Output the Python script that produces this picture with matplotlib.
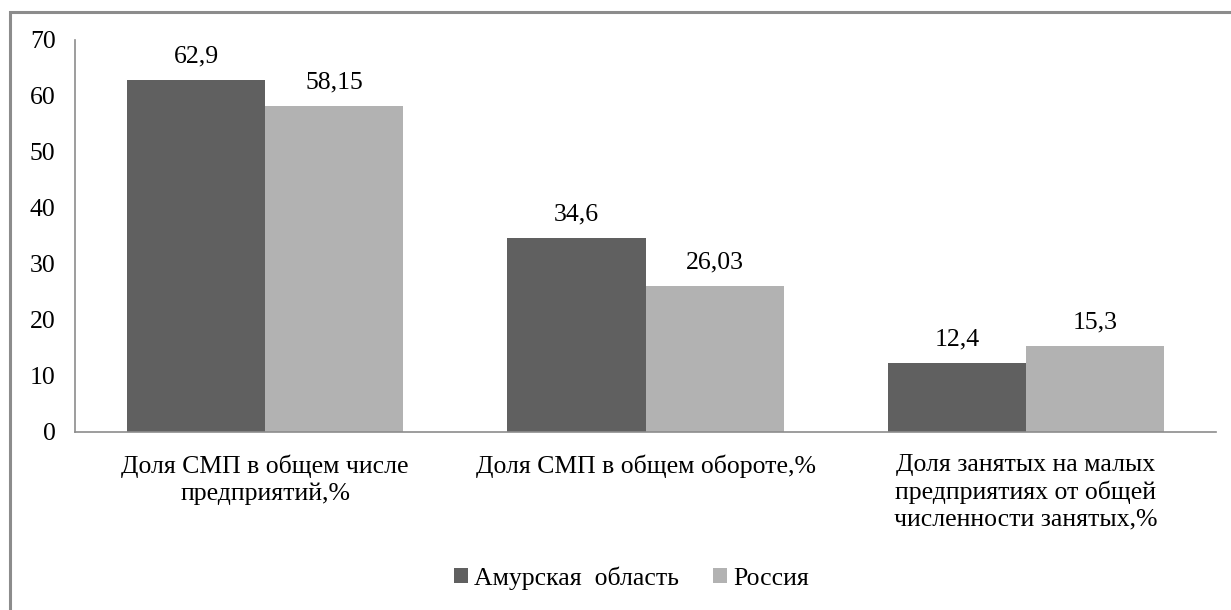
import numpy as np
import matplotlib
matplotlib.use('Agg')
import matplotlib.pyplot as plt
from matplotlib.patches import Rectangle

plt.rcParams['font.family'] = 'serif'
plt.rcParams['font.serif'] = ['Liberation Serif', 'DejaVu Serif']

# ===== данные =====
categories = ['Доля СМП в общем числе\nпредприятий,%',
              'Доля СМП в общем обороте,%',
              'Доля занятых на малых\nпредприятиях от общей\nчисленности занятых,%']
amur = [62.9, 34.6, 12.4]
russia = [58.15, 26.03, 15.3]
series_names = ['Амурская  область', 'Россия']
yticks = [0, 10, 20, 30, 40, 50, 60, 70]

c_dark = '#606060'
c_light = '#b2b2b2'
c_axis = '#8c8c8c'
fs = 18.5

fig = plt.figure(figsize=(12.31, 6.10), dpi=100)
ax = fig.add_axes([75 / 1231, 1 - 432 / 610, 1141 / 1231, 392 / 610])

x = np.arange(len(categories))
w = 0.363
b1 = ax.bar(x - w / 2, amur, width=w, color=c_dark, label=series_names[0])
b2 = ax.bar(x + w / 2, russia, width=w, color=c_light, label=series_names[1])

for bars, vals in ((b1, amur), (b2, russia)):
    for r, v in zip(bars, vals):
        ax.annotate(f'{v:g}'.replace('.', ','),
                    xy=(r.get_x() + r.get_width() / 2, r.get_height()),
                    xytext=(0, 9), textcoords='offset points',
                    ha='center', va='bottom', fontsize=fs, color='#000000')

ax.set_xlim(-0.5, len(categories) - 0.5)
ax.set_ylim(0, 70)
ax.set_yticks(yticks)
ax.set_xticks(x)
ax.set_xticklabels(categories, fontsize=fs, linespacing=1.25)
ax.tick_params(axis='y', length=0, pad=14, labelsize=fs)
ax.tick_params(axis='x', length=0, pad=16)

for s in ('top', 'right'):
    ax.spines[s].set_visible(False)
for s in ('left', 'bottom'):
    ax.spines[s].set_color(c_axis)
    ax.spines[s].set_linewidth(1.2)

leg = fig.legend(handles=[b1, b2], loc='center', bbox_to_anchor=(0.513, 1 - 578 / 610),
                 ncol=2, frameon=False, fontsize=fs, handlelength=0.55, handleheight=0.55,
                 handletextpad=0.25, columnspacing=1.3)

# рамка вокруг диаграммы
fig.patches.append(Rectangle((10 / 1231, -0.1), 1.2, 1 - 12 / 610 + 0.1,
                             transform=fig.transFigure, fill=False,
                             edgecolor=c_axis, linewidth=2.2, clip_on=False))

fig.savefig('out.png', dpi=100, facecolor='white')
